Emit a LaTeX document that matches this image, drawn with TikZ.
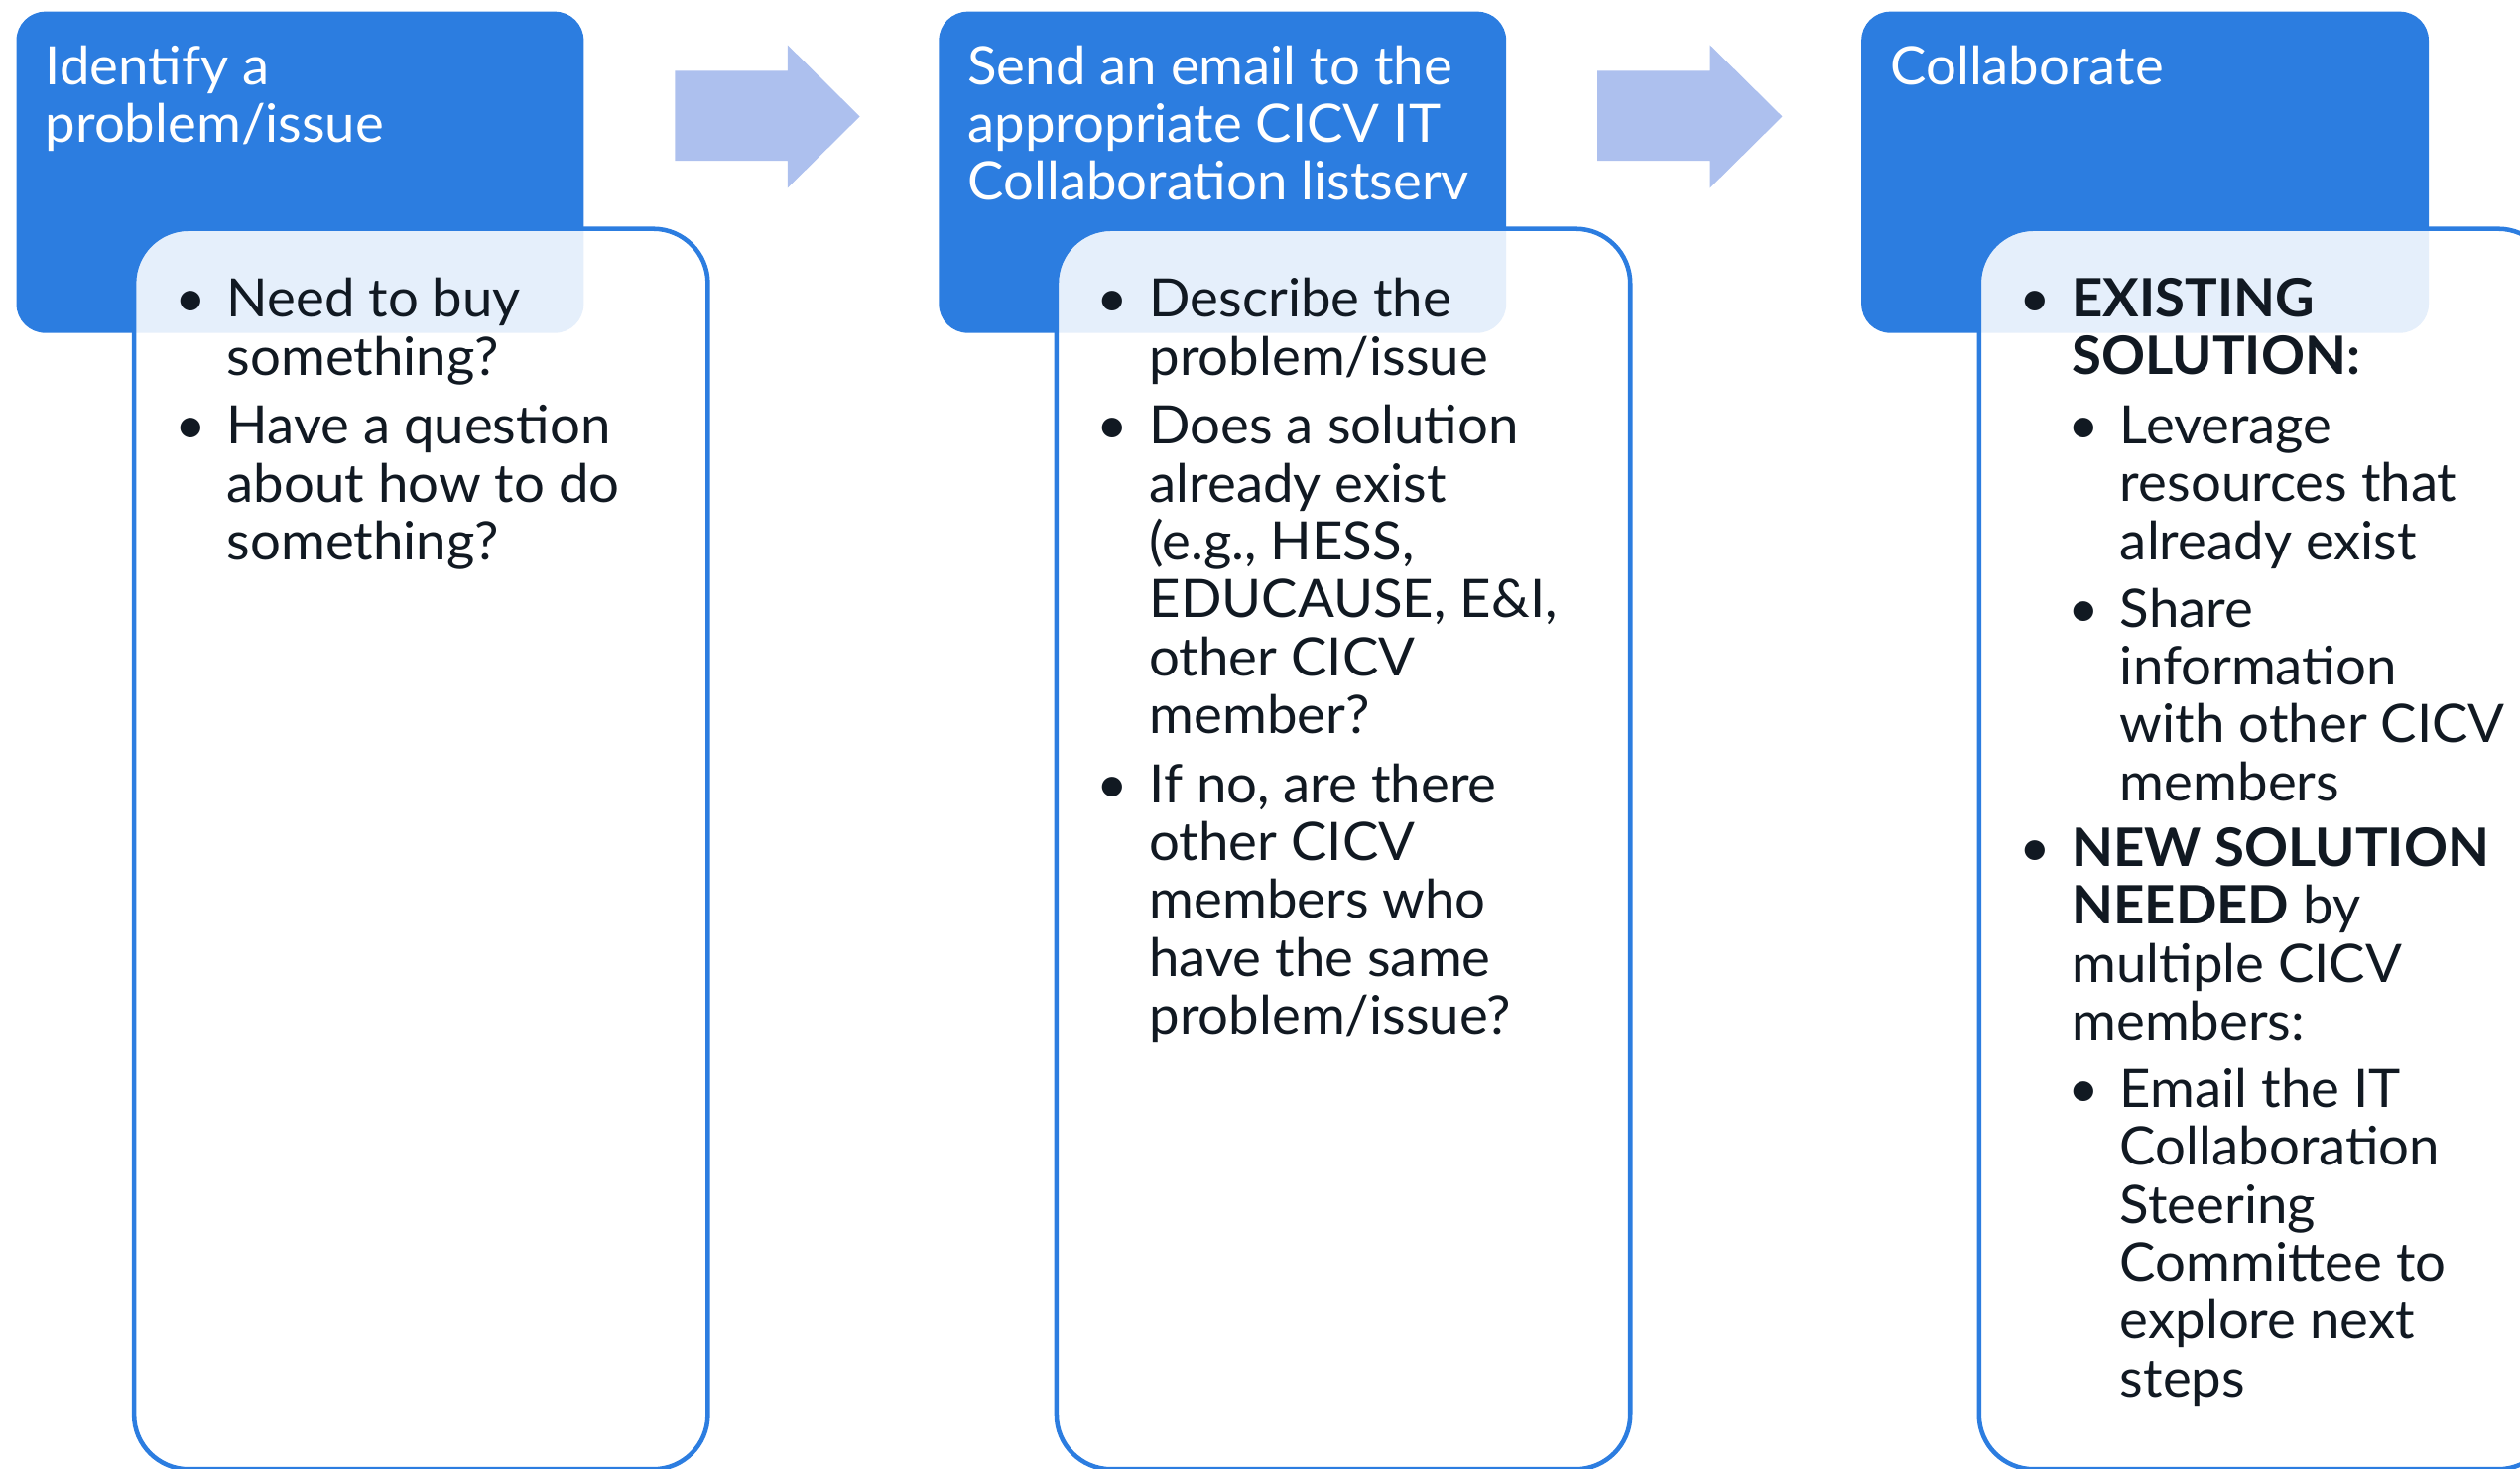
\documentclass[tikz,border=0pt]{standalone}
\usepackage{fontspec}
\setmainfont{Lato}[FakeStretch=1.02]
\usetikzlibrary{positioning}

\definecolor{cicvblue}{HTML}{2C7DE0}
\definecolor{arrowblue}{HTML}{ADC0EE}
\definecolor{inkdark}{HTML}{111922}

\newcommand{\bul}{\llap{\textbullet\hspace{13pt}}}
\newcommand{\subind}{\hspace*{30pt}}

\tikzset{
  stephead/.style={fill=cicvblue, rounded corners=18pt, inner sep=0pt,
    minimum width=353pt, minimum height=200pt, anchor=north west},
  stepbody/.style={draw=cicvblue, line width=2.8pt, fill=white, fill opacity=0.88,
    rounded corners=34pt, inner sep=0pt, minimum width=357pt, minimum height=772pt,
    anchor=north west},
  steptitle/.style={font=\fontsize{33}{36}\selectfont, text=white, align=left,
    inner sep=0pt, anchor=north west},
  steptext/.style={font=\fontsize{33}{36}\selectfont, text=inkdark, align=left,
    inner sep=0pt, anchor=north west},
  flowarrow/.style={fill=arrowblue}
}

\begin{document}
\begin{tikzpicture}[x=1pt, y=-1pt]
    \useasboundingbox (0,0) rectangle (1568,914);

    % the three header boxes
    \node[stephead] (h1) at (10,7) {};
    \node[stephead] (h2) at (584,7) {};
    \node[stephead] (h3) at (1158,7) {};

    % block arrows between the headers
    \foreach \dx in {0,574}
      \fill[flowarrow] (420+\dx,44) -- (490+\dx,44) -- (490+\dx,28) -- (535+\dx,72.5)
        -- (490+\dx,117) -- (490+\dx,100) -- (420+\dx,100) -- cycle;

    % the bodies lie over the headers
    \node[stepbody] (b1) at (82,141) {};
    \node[stepbody] (b2) at (656,141) {};
    \node[stepbody] (b3) at (1230,141) {};

    \node[steptitle] (h1t) at ([xshift=18pt, yshift=-21pt]h1.north west)
      {Identify a\\problem/issue};
    \node[steptitle] (h2t) at ([xshift=18pt, yshift=-21pt]h2.north west)
      {Send an email to the\\appropriate CICV IT\\Collaboration listserv};
    \node[steptitle] (h3t) at ([xshift=18pt, yshift=-21pt]h3.north west)
      {Collaborate};

    \node[steptext] (t1) at ([xshift=59pt, yshift=-32pt]b1.north west)
      {\bul Need to buy\\something?\\[7pt]
       \bul Have a question\\about how to do\\something?};
    \node[steptext] (t2) at ([xshift=59pt, yshift=-32pt]b2.north west)
      {\bul Describe the\\problem/issue\\[7pt]
       \bul Does a solution\\already exist\\(e.g., HESS,\\EDUCAUSE, E\&I,\\other CICV\\member?\\[7pt]
       \bul If no, are there\\other CICV\\members who\\have the same\\problem/issue?};
    \node[steptext] (t3) at ([xshift=59pt, yshift=-32pt]b3.north west)
      {\bul\textbf{EXISTING}\\\textbf{SOLUTION:}\\[7pt]
       \subind\bul Leverage\\\subind resources that\\\subind already exist\\[6pt]
       \subind\bul Share\\\subind information\\\subind with other CICV\\\subind members\\[5pt]
       \bul\textbf{NEW SOLUTION}\\\textbf{NEEDED} by\\multiple CICV\\members:\\[6pt]
       \subind\bul Email the IT\\\subind Collaboration\\\subind Steering\\\subind Committee to\\\subind explore next\\\subind steps};
\end{tikzpicture}
\end{document}
